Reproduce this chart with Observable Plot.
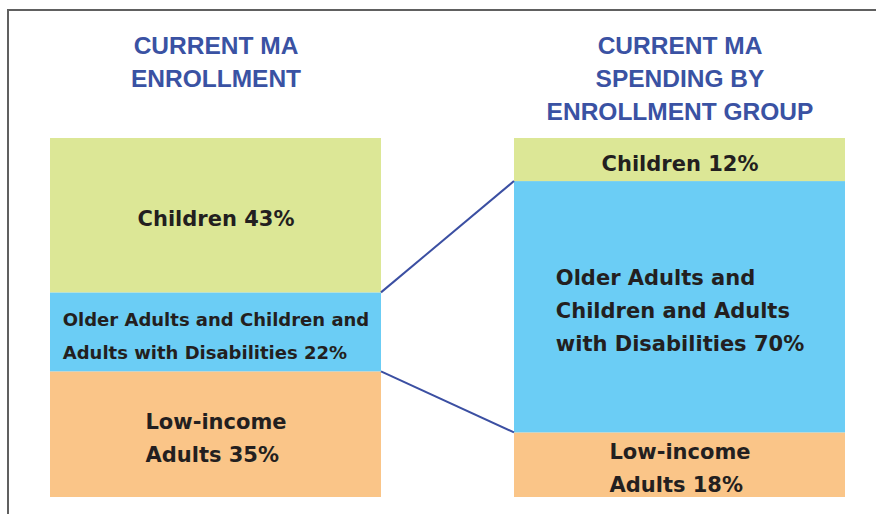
<!DOCTYPE html>
<html><head><meta charset="utf-8">
<script src="https://cdn.jsdelivr.net/npm/d3@7"></script>
<script src="https://cdn.jsdelivr.net/npm/@observablehq/plot@0.6"></script>
<style>
html,body{margin:0;padding:0;background:#fff;overflow:hidden;}
#wrap{position:relative;width:876px;height:514px;overflow:hidden;}
#wrap::before{content:"";position:absolute;left:7px;top:9px;width:900px;height:600px;border-top:2px solid #606060;border-left:2px solid #606060;}
#wrap svg{position:absolute;left:0;top:0;}
</style></head><body><div id="wrap"></div>
<script>
const panels = ["Enrollment", "Spending"];
const panelTitles = ["CURRENT MA\nENROLLMENT", "CURRENT MA\nSPENDING BY\nENROLLMENT GROUP"];
const groups = ["Low-income Adults", "Older Adults and Children and Adults with Disabilities", "Children"];
const enrollmentShare = [35, 22, 43];
const spendingShare = [18, 70, 12];
const enrollmentLabels = ["Low-income\nAdults 35%", "Older Adults and Children and\nAdults with Disabilities 22%", "Children 43%"];
const spendingLabels = ["Low-income\nAdults 18%", "Older Adults and\nChildren and Adults\nwith Disabilities 70%", "Children 12%"];
const groupColors = ["#fac588", "#6bcdf5", "#dce796"];

const shares = [enrollmentShare, spendingShare];
const labels = [enrollmentLabels, spendingLabels];
const rows = [];
shares.forEach((vals, p) => {
  let acc = 0;
  vals.forEach((v, i) => {
    rows.push({panel: panels[p], group: groups[i], idx: i, y1: acc, y2: acc + v, mid: acc + v / 2, label: labels[p][i]});
    acc += v;
  });
});
const links = [0, 1].map(i => ({
  a: rows.find(r => r.panel === panels[0] && r.idx === i).y2,
  b: rows.find(r => r.panel === panels[1] && r.idx === i).y2
}));

const labelStyle = {x: "panel", y: "mid", text: "label", fontWeight: "bold", fill: "#231f20", fontFamily: "DejaVu Sans", className: "seg"};

const chart = Plot.plot({
  width: 876, height: 514,
  marginLeft: 49, marginRight: 30, marginTop: 138, marginBottom: 17,
  x: {type: "band", domain: panels, paddingInner: 0.286, paddingOuter: 0, axis: null},
  y: {domain: [0, 100], axis: null},
  color: {domain: groups, range: groupColors},
  style: {background: "transparent", overflow: "visible"},
  marks: [
    Plot.barY(rows, {x: "panel", y1: "y1", y2: "y2", fill: "group"}),
    (index, scales) => {
      const x = scales.x, y = scales.y;
      const bw = x.bandwidth ? x.bandwidth() : 0;
      const g = d3.create("svg:g");
      links.forEach(l => g.append("line")
        .attr("x1", x(panels[0]) + bw).attr("y1", y(l.a))
        .attr("x2", x(panels[1])).attr("y2", y(l.b))
        .attr("stroke", "#3b4fa2").attr("stroke-width", 2));
      return g.node();
    },
    Plot.text(panels, {x: d => d, text: (d, i) => panelTitles[i], frameAnchor: "top", lineAnchor: "top", dy: -108,
      fontSize: 24.5, fontWeight: "bold", fill: "#3a52a3", fontFamily: "Liberation Sans", lineHeight: 1.347}),
    Plot.text(rows.filter(r => !(r.panel === panels[0] && r.idx === 1)), {...labelStyle, fontSize: 21, lineHeight: 1.57}),
    Plot.text(rows.filter(r => r.panel === panels[0] && r.idx === 1), {...labelStyle, fontSize: 18, lineHeight: 1.83})
  ]
});
document.getElementById("wrap").appendChild(chart);

document.querySelectorAll(".seg text").forEach(t => {
  const spans = t.querySelectorAll("tspan");
  if (spans.length < 2) return;
  let w = 0;
  spans.forEach(s => { w = Math.max(w, s.getComputedTextLength()); });
  const bx = parseFloat(t.getAttribute("x")) || 0;
  t.setAttribute("text-anchor", "start");
  spans.forEach(s => s.setAttribute("x", bx - w / 2));
});
</script>
</body></html>
